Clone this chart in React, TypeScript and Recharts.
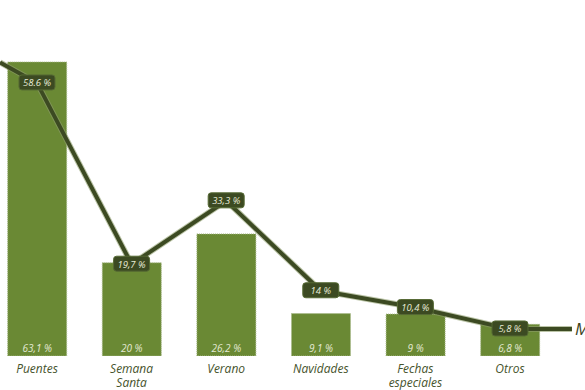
import React from "react";
import { ComposedChart, Bar, Line, XAxis, YAxis, LabelList } from "recharts";

const categories = ["Puentes", "Semana\nSanta", "Verano", "Navidades", "Fechas\nespeciales", "Otros"];
const barValues = [63.1, 20, 26.2, 9.1, 9, 6.8];
const barLabels = ["63,1 %", "20 %", "26,2 %", "9,1  %", "9 %", "6,8 %"];
const lineValues = [58.6, 19.7, 33.3, 14, 10.4, 5.8];
const lineLabels = ["58.6 %", "19,7 %", "33,3 %", "14 %", "10,4 %", "5,8  %"];
// the line runs in from the left edge and out past the last bar
const leadIn = { x: -0.391, value: 63 };
const tailOut = { x: 5.655, value: 5.8 };

const FONT = "'Open Sans', 'DejaVu Sans', sans-serif";
const X_DOMAIN: [number, number] = [-0.391, 5.793];

const barData = categories.map((c, i) => ({
  x: i,
  name: c,
  bar: barValues[i],
  barLabel: barLabels[i],
}));

const lineData = [
  { x: leadIn.x, line: leadIn.value },
  ...categories.map((c, i) => ({ x: i, line: lineValues[i], lineLabel: lineLabels[i] })),
  { x: tailOut.x, line: tailOut.value, tail: "M" },
];

const CategoryTick = (props: any) => {
  const { x, y, payload } = props;
  const idx = Math.round(payload.value);
  const lines = (categories[idx] || "").split("\n");
  return (
    <g>
      {lines.map((l, k) => (
        <text
          key={k}
          x={x}
          y={y + 9 + k * 14}
          textAnchor="middle"
          fontFamily={FONT}
          fontStyle="italic"
          fontSize={12}
          fill="#46532c"
        >
          {l}
        </text>
      ))}
    </g>
  );
};

const LineLabel = (props: any) => {
  const { x, y, value } = props;
  if (value === undefined || value === null) return null;
  if (value === "M") {
    return (
      <text x={x + 3} y={y + 6} fontFamily={FONT} fontStyle="italic" fontSize={17} fill="#3b4322">
        M
      </text>
    );
  }
  return (
    <g>
      <rect x={x - 18} y={y - 8} width={36} height={15} rx={3} fill="#3c4a22" stroke="#566a34" strokeWidth={1} />
      <text x={x} y={y + 3.5} textAnchor="middle" fontFamily={FONT} fontStyle="italic" fontSize={9.5} fill="#e8ecd8">
        {value}
      </text>
    </g>
  );
};

const BarLabel = (props: any) => {
  const { x, width, value } = props;
  if (value === undefined || value === null) return null;
  return (
    <text x={x + width / 2} y={352} textAnchor="middle" fontFamily={FONT} fontStyle="italic" fontSize={10} fill="#e4e9d4">
      {value}
    </text>
  );
};

export default function App() {
  return (
    <div style={{ position: "absolute", left: 0, top: 0, width: 585, height: 390, background: "#fff" }}>
      <ComposedChart width={585} height={390} data={barData} margin={{ top: 0, right: 0, left: 0, bottom: 0 }}>
        <XAxis
          xAxisId="bars"
          type="number"
          dataKey="x"
          domain={X_DOMAIN}
          ticks={[0, 1, 2, 3, 4, 5]}
          allowDataOverflow
          axisLine={false}
          tickLine={false}
          height={34}
          tick={<CategoryTick />}
          interval={0}
        />
        <XAxis xAxisId="line" type="number" dataKey="x" domain={X_DOMAIN} allowDataOverflow hide />
        <YAxis hide domain={[0, 76.4]} allowDataOverflow />
        <Bar
          xAxisId="bars"
          dataKey="bar"
          barSize={59}
          fill="#6a8934"
          stroke="#a8b98a"
          strokeWidth={1}
          strokeDasharray="1 1"
          isAnimationActive={false}
        >
          <LabelList dataKey="barLabel" content={<BarLabel />} />
        </Bar>
        <Line
          xAxisId="line"
          data={lineData}
          dataKey="line"
          type="linear"
          stroke="#8d9d6c"
          strokeWidth={6}
          strokeOpacity={0.6}
          dot={false}
          activeDot={false}
          isAnimationActive={false}
        />
        <Line
          xAxisId="line"
          data={lineData}
          dataKey="line"
          type="linear"
          stroke="#3c4a22"
          strokeWidth={4}
          dot={false}
          activeDot={false}
          isAnimationActive={false}
        >
          <LabelList dataKey="lineLabel" content={<LineLabel />} />
          <LabelList dataKey="tail" content={<LineLabel />} />
        </Line>
      </ComposedChart>
    </div>
  );
}
